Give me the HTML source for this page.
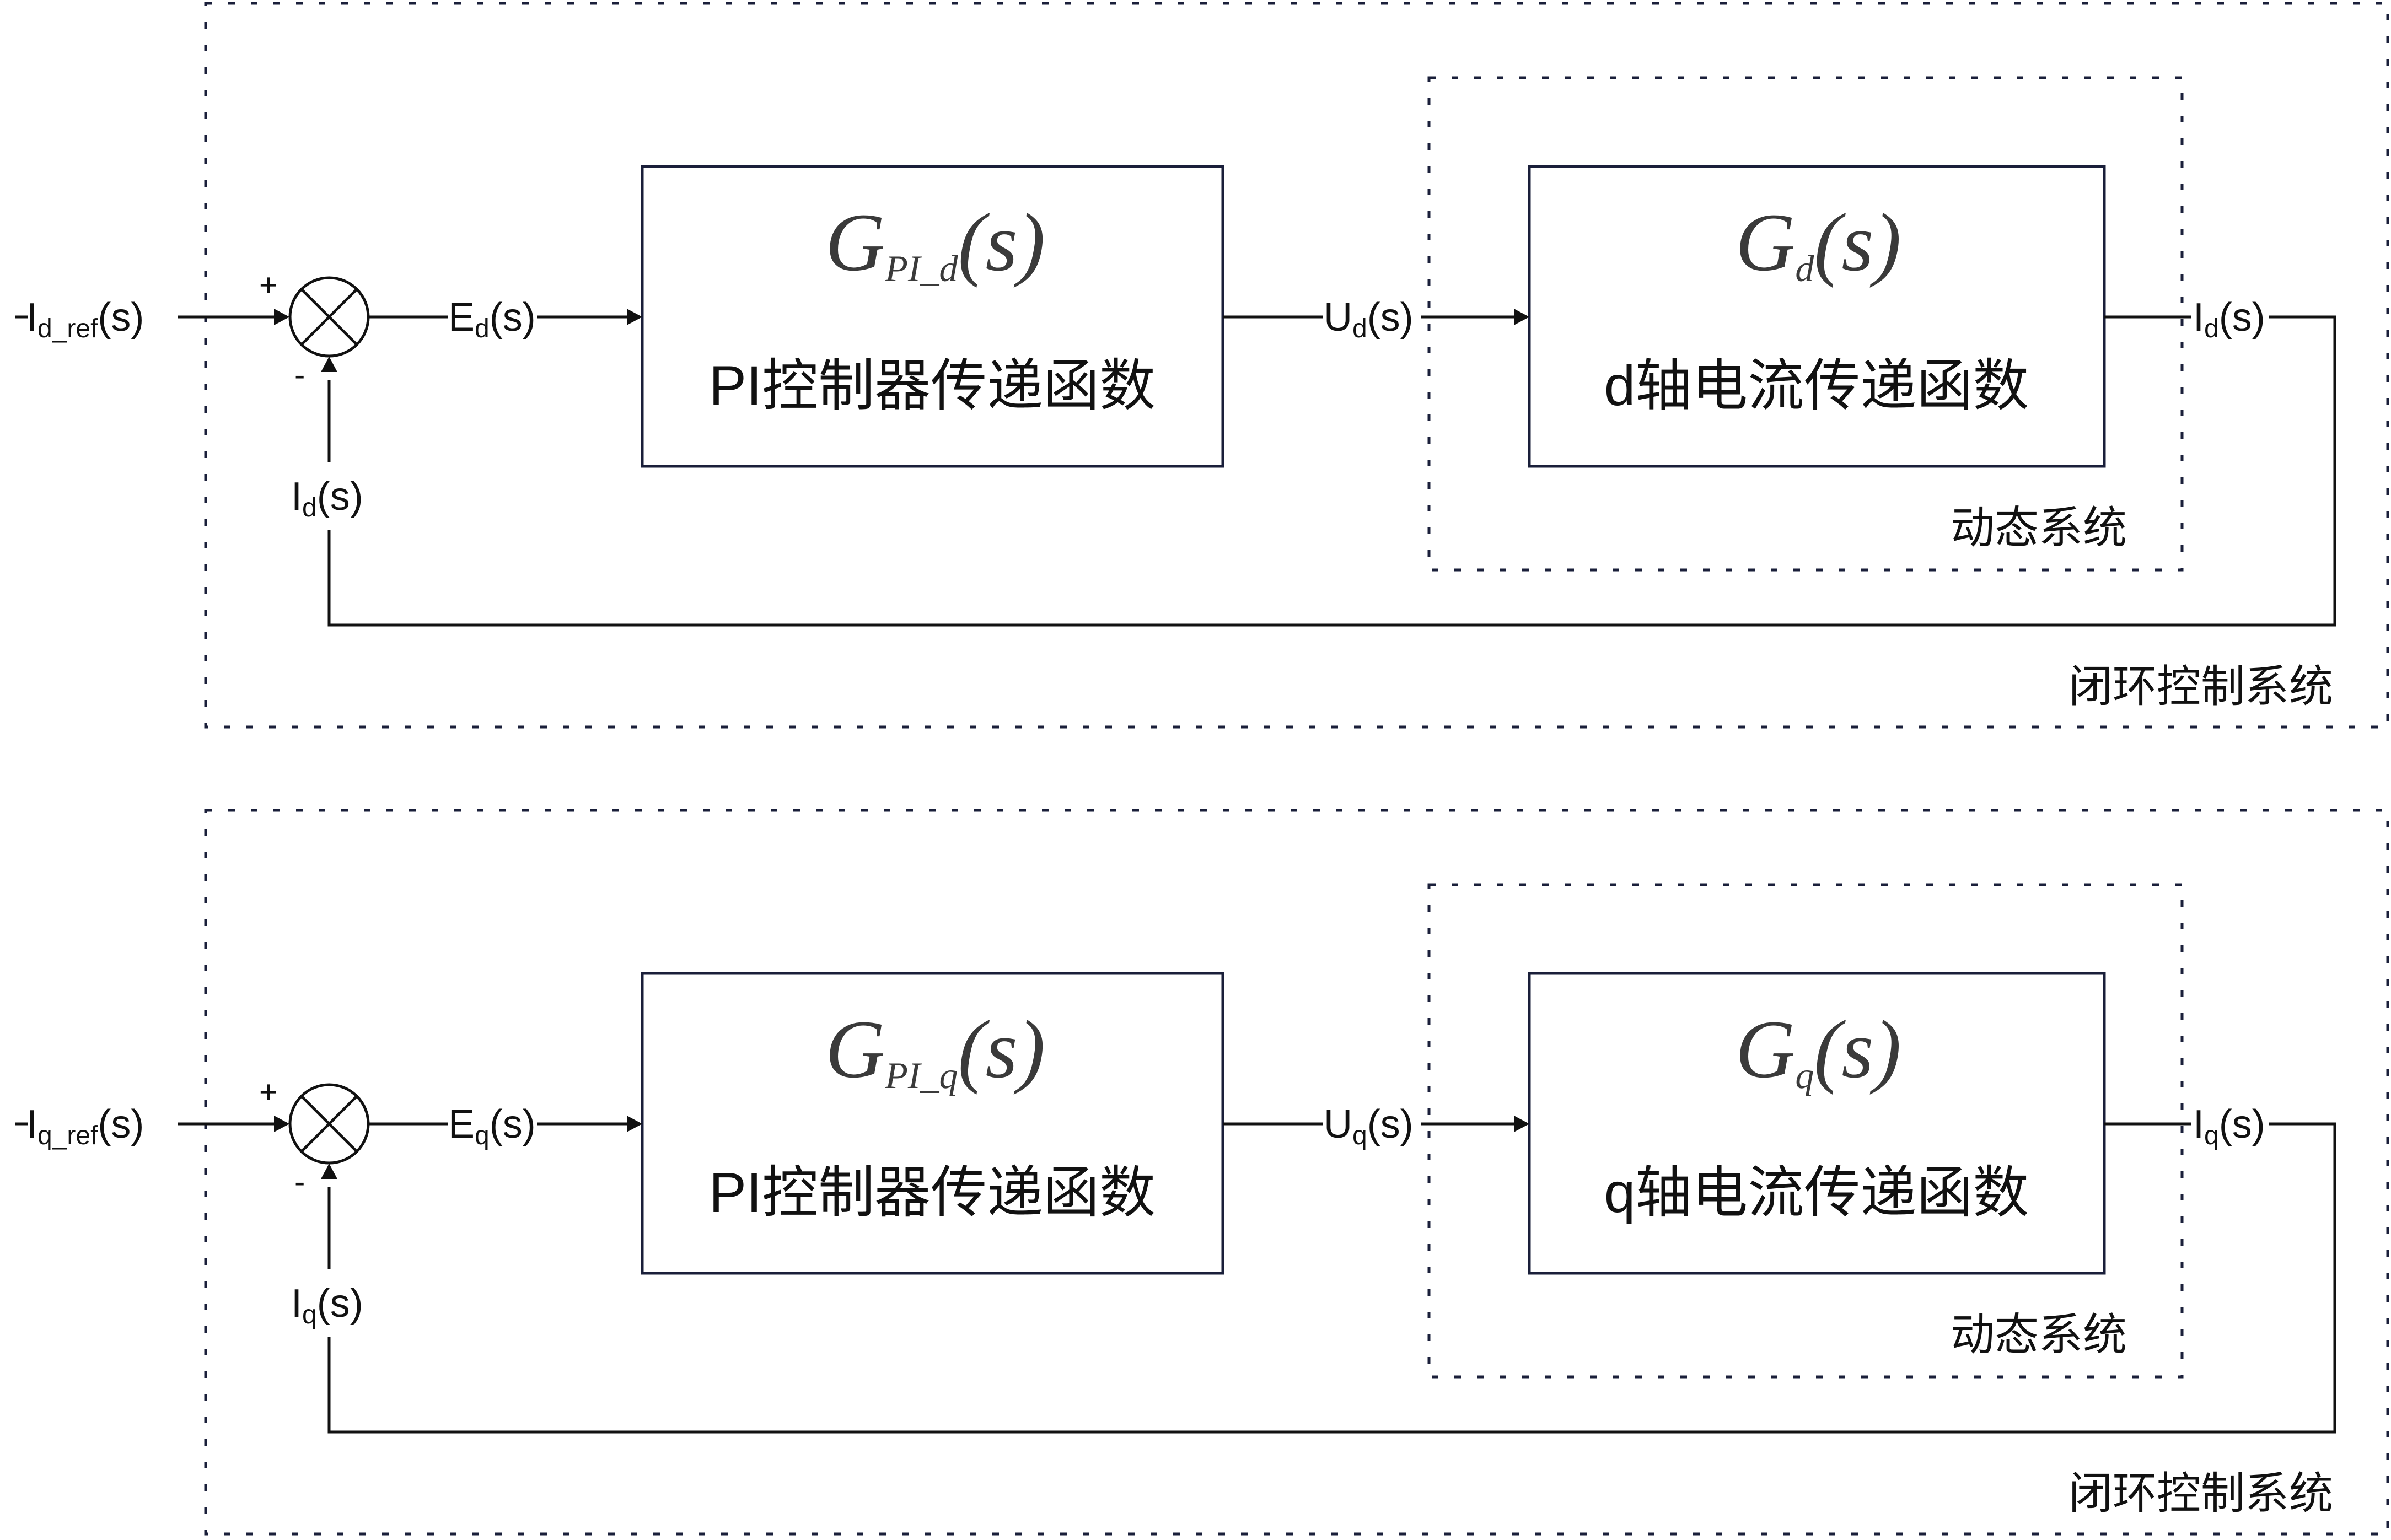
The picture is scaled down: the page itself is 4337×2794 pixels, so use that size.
<!DOCTYPE html>
<html><head><meta charset="utf-8"><style>
html,body{margin:0;padding:0;background:#fff;}
svg{display:block;}
text{font-family:"Liberation Sans","Noto Sans CJK SC",sans-serif;fill:#111;}
.m{font-family:"Liberation Serif",serif;font-style:italic;fill:#3a3a3a;}
</style></head><body>
<svg width="4337" height="2794" viewBox="0 0 4337 2794" xmlns="http://www.w3.org/2000/svg">
<defs>
<g id="panel">
  <!-- outer dashed -->
  <rect x="373" y="6" width="3958" height="1313" fill="none" stroke="#1a1f3a" stroke-width="5" stroke-dasharray="12 29"/>
  <!-- inner dashed -->
  <rect x="2592" y="141" width="1366" height="893" fill="none" stroke="#1a1f3a" stroke-width="5" stroke-dasharray="12 29"/>
  <!-- boxes -->
  <rect x="1165" y="302" width="1053" height="544" fill="none" stroke="#1a1f3a" stroke-width="5"/>
  <rect x="2774" y="302" width="1043" height="544" fill="none" stroke="#1a1f3a" stroke-width="5"/>
  <!-- sum -->
  <circle cx="597" cy="575" r="71" fill="none" stroke="#111" stroke-width="5"/>
  <line x1="547" y1="525" x2="647" y2="625" stroke="#111" stroke-width="5"/>
  <line x1="647" y1="525" x2="547" y2="625" stroke="#111" stroke-width="5"/>
  <g stroke="#111" stroke-width="5" fill="none">
    <line x1="28" y1="575" x2="50" y2="575"/>
    <line x1="322" y1="575" x2="500" y2="575"/>
    <line x1="668" y1="575" x2="812" y2="575"/>
    <line x1="974" y1="575" x2="1140" y2="575"/>
    <line x1="2218" y1="575" x2="2400" y2="575"/>
    <line x1="2578" y1="575" x2="2750" y2="575"/>
    <line x1="3817" y1="575" x2="3975" y2="575"/>
    <polyline points="4116,575 4235,575 4235,1134 597,1134 597,962"/>
    <line x1="597" y1="838" x2="597" y2="690"/>
  </g>
  <g fill="#111">
    <polygon points="525,575 497,560 497,590"/>
    <polygon points="1165,575 1137,560 1137,590"/>
    <polygon points="2774,575 2746,560 2746,590"/>
    <polygon points="597,647 582,675 612,675"/>
  </g>
  <text x="470" y="537" font-size="58">+</text>
  <text x="534" y="700" font-size="58">-</text>
</g>
</defs>

<use href="#panel"/>
<use href="#panel" y="1464"/>

<!-- top panel text -->
<g>
  <text x="48" y="600" font-size="72">I<tspan font-size="48" dy="12">d_ref</tspan><tspan dy="-12">(s)</tspan></text>
  <text x="813" y="600" font-size="72">E<tspan font-size="48" dy="12">d</tspan><tspan dy="-12">(s)</tspan></text>
  <text x="2401" y="600" font-size="72">U<tspan font-size="48" dy="12">d</tspan><tspan dy="-12">(s)</tspan></text>
  <text x="3978" y="600" font-size="72">I<tspan font-size="48" dy="12">d</tspan><tspan dy="-12">(s)</tspan></text>
  <text x="528" y="925" font-size="72">I<tspan font-size="48" dy="12">d</tspan><tspan dy="-12">(s)</tspan></text>
  <text class="m" x="1497" y="490" font-size="150">G<tspan font-size="68" dy="20">PI_d</tspan><tspan dy="-20">(s)</tspan></text>
  <text class="m" x="3148" y="490" font-size="150">G<tspan font-size="68" dy="20">d</tspan><tspan dy="-20">(s)</tspan></text>
  <text x="1691" y="735" font-size="102" text-anchor="middle">PI控制器传递函数</text>
  <text x="3295" y="735" font-size="102" text-anchor="middle">d轴电流传递函数</text>
  <text x="3858" y="985" font-size="80" text-anchor="end">动态系统</text>
  <text x="4232" y="1273" font-size="80" text-anchor="end">闭环控制系统</text>
</g>
<!-- bottom panel text -->
<g transform="translate(0,1464)">
  <text x="48" y="600" font-size="72">I<tspan font-size="48" dy="12">q_ref</tspan><tspan dy="-12">(s)</tspan></text>
  <text x="813" y="600" font-size="72">E<tspan font-size="48" dy="12">q</tspan><tspan dy="-12">(s)</tspan></text>
  <text x="2401" y="600" font-size="72">U<tspan font-size="48" dy="12">q</tspan><tspan dy="-12">(s)</tspan></text>
  <text x="3978" y="600" font-size="72">I<tspan font-size="48" dy="12">q</tspan><tspan dy="-12">(s)</tspan></text>
  <text x="528" y="925" font-size="72">I<tspan font-size="48" dy="12">q</tspan><tspan dy="-12">(s)</tspan></text>
  <text class="m" x="1497" y="490" font-size="150">G<tspan font-size="68" dy="20">PI_q</tspan><tspan dy="-20">(s)</tspan></text>
  <text class="m" x="3148" y="490" font-size="150">G<tspan font-size="68" dy="20">q</tspan><tspan dy="-20">(s)</tspan></text>
  <text x="1691" y="735" font-size="102" text-anchor="middle">PI控制器传递函数</text>
  <text x="3295" y="735" font-size="102" text-anchor="middle">q轴电流传递函数</text>
  <text x="3858" y="985" font-size="80" text-anchor="end">动态系统</text>
  <text x="4232" y="1273" font-size="80" text-anchor="end">闭环控制系统</text>
</g>
</svg>
</body></html>
